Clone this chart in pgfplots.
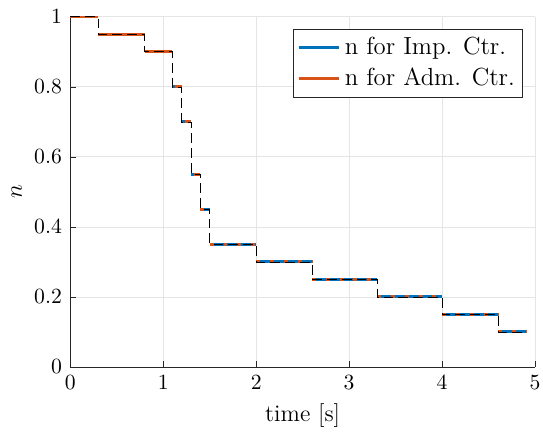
\documentclass[12pt,border=0pt]{standalone}
\usepackage{pgfplots}
\pgfplotsset{compat=1.18}
\definecolor{mblue}{rgb}{0,0.447,0.741}
\definecolor{morange}{rgb}{0.85,0.325,0.098}
\definecolor{mgray}{rgb}{0.15,0.15,0.15}
\begin{document}
\begin{tikzpicture}
\begin{axis}[
  scale only axis, width=235pt, height=177pt,
  xmin=0, xmax=5, ymin=0, ymax=1,
  axis x line=bottom, axis y line=left,
  axis line style={mgray, -},
  xtick={0,1,...,5}, ytick={0,0.2,...,1},
  tick align=inside, major tick length=3pt,
  tick style={mgray},
  tick label style={font=\fontsize{11}{13}\selectfont},
  label style={font=\fontsize{12}{14}\selectfont},
  grid=major, major grid style={gray!20},
  xlabel={time [s]}, ylabel={$n$},
  xlabel style={yshift=1pt}, ylabel style={yshift=-2pt},
  unbounded coords=jump,
  legend style={at={(1,1)}, anchor=north east, xshift=-6pt, yshift=-6pt,
    draw=mgray, row sep=1pt, inner sep=2pt,
    font=\fontsize{12.5}{15}\selectfont},
  legend cell align=left,
  legend image code/.code={\draw[#1, line width=1.5pt, dash pattern=] (0pt,0pt) -- (20.5pt,0pt);},
]
% Imp. controller
\addplot[mblue, line width=1.5pt] coordinates {
  (0,1) (0.3,1) (0.3,nan)
  (0.3,0.95) (0.8,0.95) (0.8,nan)
  (0.8,0.9) (1.1,0.9) (1.1,nan)
  (1.1,0.8) (1.2,0.8) (1.2,nan)
  (1.2,0.7) (1.3,0.7) (1.3,nan)
  (1.3,0.55) (1.4,0.55) (1.4,nan)
  (1.4,0.45) (1.5,0.45) (1.5,nan)
  (1.5,0.35) (2.0,0.35) (2.0,nan)
  (2.0,0.3) (2.6,0.3) (2.6,nan)
  (2.6,0.25) (3.3,0.25) (3.3,nan)
  (3.3,0.2) (4.0,0.2) (4.0,nan)
  (4.0,0.15) (4.6,0.15) (4.6,nan)
  (4.6,0.1) (4.9,0.1)
};
\addlegendentry{n for Imp. Ctr.}
% Adm. controller
\addplot[morange, line width=1.5pt] coordinates {
  (0,1) (0.3,1) (0.3,nan)
  (0.3,0.95) (0.8,0.95) (0.8,nan)
  (0.8,0.9) (1.1,0.9) (1.1,nan)
  (1.13,0.8) (1.2,0.8) (1.2,nan)
  (1.23,0.7) (1.3,0.7) (1.3,nan)
  (1.33,0.55) (1.4,0.55)
};
\addlegendentry{n for Adm. Ctr.}
\addplot[morange, line width=1.5pt, dash pattern=on 2pt off 5pt, forget plot] coordinates {
  (1.4,0.45) (1.5,0.45) (1.5,nan)
  (1.5,0.35) (2.0,0.35) (2.0,nan)
  (2.0,0.3) (2.6,0.3) (2.6,nan)
  (2.6,0.25) (3.3,0.25) (3.3,nan)
  (3.3,0.2) (4.0,0.2) (4.0,nan)
  (4.0,0.15) (4.6,0.15) (4.6,nan)
  (4.6,0.1) (4.9,0.1)
};
% reference step
\addplot[black, line width=0.35pt, dash pattern=on 5pt off 2.5pt, const plot, forget plot] coordinates {
  (0,1) (0.3,0.95) (0.8,0.9) (1.1,0.8) (1.2,0.7) (1.3,0.55) (1.4,0.45)
  (1.5,0.35) (2.0,0.3) (2.6,0.25) (3.3,0.2) (4.0,0.15) (4.6,0.1) (4.9,0.1)
};
\end{axis}
\pgfresetboundingbox
\path (-35.5pt,-32.5pt) rectangle (239pt,185.5pt);
\end{tikzpicture}
\end{document}
